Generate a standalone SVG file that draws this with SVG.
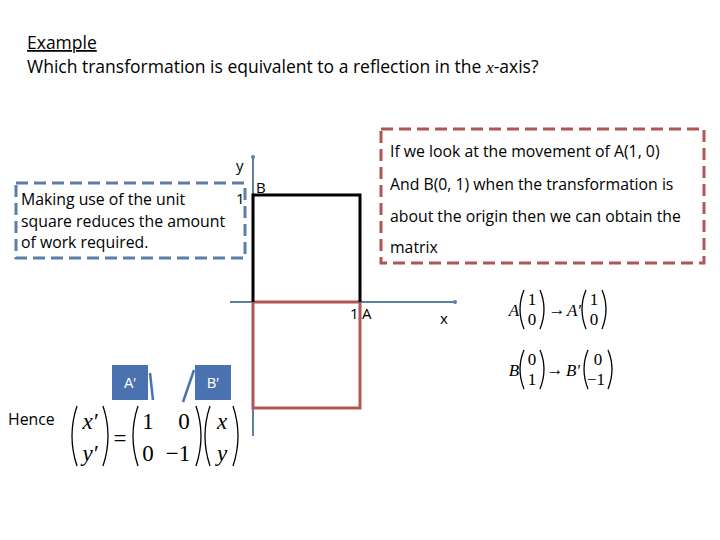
<svg xmlns="http://www.w3.org/2000/svg" width="720" height="540" viewBox="0 0 720 540">
<style>
.t{font-family:"Open Sans","Liberation Sans",sans-serif;font-size:17.5px;fill:#000}
.s{font-family:"Open Sans","Liberation Sans",sans-serif;font-size:15.8px;fill:#000}
.a{font-family:"Open Sans","Liberation Sans",sans-serif;font-size:15px;fill:#000}
.m{font-family:"Liberation Serif",serif;font-size:23px;fill:#000;text-anchor:middle}
.mi{font-family:"Liberation Serif",serif;font-size:23px;font-style:italic;fill:#000;text-anchor:middle}
.q{font-family:"Liberation Serif",serif;font-size:17px;fill:#000;text-anchor:middle}
.qi{font-family:"Liberation Serif",serif;font-size:17px;font-style:italic;fill:#000;text-anchor:middle}
.p{fill:none;stroke:#000;stroke-width:1.3}
</style>
<rect width="720" height="540" fill="#fff"/>
<g id="title">
<text class="t" x="27" y="49" text-decoration="underline">Example</text>
<text class="t" x="27" y="73">Which transformation is equivalent to a reflection in the <tspan font-family="Liberation Serif" font-style="italic">x</tspan>-axis?</text>
</g>
<g id="note-left">
<rect x="16" y="183" width="229" height="75" fill="none" stroke="#5b7fa8" stroke-width="3" stroke-dasharray="12,6"/>
<text class="s" x="21" y="205">Making use of the unit</text>
<text class="s" x="21" y="227">square reduces the amount</text>
<text class="s" x="21" y="248">of work required.</text>
</g>
<g id="note-right">
<rect x="381" y="129" width="323" height="134" fill="none" stroke="#b05656" stroke-width="3" stroke-dasharray="12,6"/>
<text class="s" x="390" y="157">If we look at the movement of A(1, 0)</text>
<text class="s" x="390" y="190">And B(0, 1) when the transformation is</text>
<text class="s" x="390" y="222">about the origin then we can obtain the</text>
<text class="s" x="390" y="253">matrix</text>
</g>
<g id="axes">
<line x1="253" y1="157" x2="253" y2="436" stroke="#5b7fa8" stroke-width="2"/>
<circle cx="253" cy="157" r="2" fill="#5b7fa8"/>
<line x1="230" y1="302" x2="455" y2="302" stroke="#5b7fa8" stroke-width="2"/>
<circle cx="455" cy="302" r="2" fill="#5b7fa8"/>
<text class="a" x="236" y="171">y</text>
<text class="a" x="236" y="204">1</text>
<text class="a" x="256" y="193">B</text>
<text class="a" x="350" y="319">1</text>
<text class="a" x="362" y="319">A</text>
<text class="a" x="440" y="324">x</text>
</g>
<g id="squares">
<rect x="253" y="302" width="107" height="106" fill="none" stroke="#b05656" stroke-width="3"/>
<polyline points="253,302 253,195 360,195 360,302" fill="none" stroke="#000" stroke-width="3"/>
</g>
<g id="A-prime">
<rect x="112" y="365" width="36" height="35" fill="#4a72b0"/>
<text x="130" y="388" text-anchor="middle" font-family="Liberation Sans,sans-serif" font-size="14" fill="#fff">A′</text>
</g>
<g id="B-prime">
<rect x="195" y="365" width="36" height="35" fill="#4a72b0"/>
<text x="213" y="388" text-anchor="middle" font-family="Liberation Sans,sans-serif" font-size="14" fill="#fff">B′</text>
</g>
<g id="connectors">
<line x1="150" y1="373" x2="153" y2="400" stroke="#4a72b0" stroke-width="2.5"/>
<line x1="194" y1="370" x2="183" y2="402" stroke="#4a72b0" stroke-width="2.5"/>
</g>
<g id="hence">
<text class="s" x="8" y="425">Hence</text>
<path class="p" d="M77,406 Q67,436 77,466"/>
<text class="mi" x="90" y="429">x′</text>
<text class="mi" x="90" y="461">y′</text>
<path class="p" d="M103,406 Q113,436 103,466"/>
<text class="m" x="120" y="446">=</text>
<path class="p" d="M138,406 Q128,436 138,466"/>
<text class="m" x="148" y="429">1</text>
<text class="m" x="148" y="461">0</text>
<text class="m" x="184" y="429">0</text>
<text class="m" x="178" y="461">−1</text>
<path class="p" d="M196,406 Q206,436 196,466"/>
<path class="p" d="M210,406 Q200,436 210,466"/>
<text class="mi" x="222" y="429">x</text>
<text class="mi" x="222" y="461">y</text>
<path class="p" d="M233,406 Q243,436 233,466"/>
</g>
<g id="mapping">
<text class="qi" x="514" y="316">A</text>
<path class="p" d="M524,290 Q516,309 524,329"/>
<text class="q" x="532" y="305">1</text><text class="q" x="532" y="325">0</text>
<path class="p" d="M540,290 Q548,309 540,329"/>
<text class="q" x="557" y="315">→</text>
<text class="qi" x="574" y="316">A′</text>
<path class="p" d="M586,290 Q578,309 586,329"/>
<text class="q" x="594" y="305">1</text><text class="q" x="594" y="325">0</text>
<path class="p" d="M602,290 Q610,309 602,329"/>
<text class="qi" x="514" y="376">B</text>
<path class="p" d="M524,350 Q516,369 524,389"/>
<text class="q" x="532" y="365">0</text><text class="q" x="532" y="385">1</text>
<path class="p" d="M540,350 Q548,369 540,389"/>
<text class="q" x="555" y="375">→</text>
<text class="qi" x="573" y="376">B′</text>
<path class="p" d="M588,350 Q580,369 588,389"/>
<text class="q" x="598" y="365">0</text><text class="q" x="596" y="385">−1</text>
<path class="p" d="M608,350 Q616,369 608,389"/>
</g>
</svg>
